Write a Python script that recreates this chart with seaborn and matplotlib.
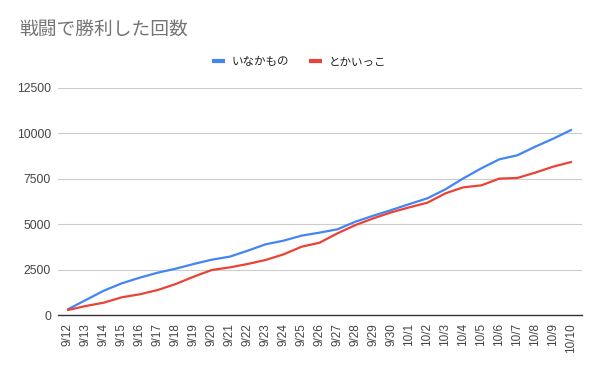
import matplotlib
matplotlib.use("Agg")
import matplotlib.pyplot as plt
import seaborn as sns
import pandas as pd
import numpy as np
from matplotlib.lines import Line2D

dates = ["9/12", "9/13", "9/14", "9/15", "9/16", "9/17", "9/18", "9/19", "9/20", "9/21",
         "9/22", "9/23", "9/24", "9/25", "9/26", "9/27", "9/28", "9/29", "9/30", "10/1",
         "10/2", "10/3", "10/4", "10/5", "10/6", "10/7", "10/8", "10/9", "10/10"]
inakamono = [313, 826, 1340, 1744, 2056, 2331, 2551, 2809, 3045, 3212,
             3540, 3893, 4094, 4370, 4535, 4720, 5140, 5470, 5782, 6110,
             6425, 6920, 7526, 8077, 8574, 8793, 9270, 9710, 10190]
tokaikko = [275, 496, 680, 975, 1140, 1377, 1707, 2110, 2478, 2620,
            2810, 3030, 3340, 3760, 3980, 4500, 4955, 5325, 5655, 5930,
            6185, 6700, 7030, 7140, 7510, 7545, 7840, 8170, 8425]
series_names = ["いなかもの", "とかいっこ"]
colors = ["#4285F4", "#EA4335"]
title = "戦闘で勝利した回数"

sns.set_theme(style="white")
plt.rcParams['font.family'] = ['Noto Sans CJK JP', 'DejaVu Sans']

df = pd.DataFrame({
    "idx": list(range(len(dates))) * 2,
    "value": inakamono + tokaikko,
    "series": [series_names[0]] * len(dates) + [series_names[1]] * len(dates),
})

fig = plt.figure(figsize=(6, 3.71), dpi=100)
ax = fig.add_axes([58/600, 1 - 315/371, (582 - 58)/600, (315 - 88)/371])
sns.lineplot(data=df, x="idx", y="value", hue="series", palette=colors,
             linewidth=1.6, ax=ax, legend=False)

ax.set_xlim(-0.55, len(dates) - 1 + 0.6)
ax.set_ylim(0, 12500)
ax.set_yticks([0, 2500, 5000, 7500, 10000, 12500])
ax.set_yticklabels(["0", "2500", "5000", "7500", "10000", "12500"],
                   fontsize=8.7, color="#444444", family=["Liberation Sans", "DejaVu Sans"])
ax.set_xticks(range(len(dates)))
ax.set_xticklabels(dates, rotation=90, fontsize=8.5, color="#444444",
                   family=["Liberation Sans", "DejaVu Sans"])
ax.tick_params(axis="y", length=0, pad=5)
ax.tick_params(axis="x", length=0, pad=6)
ax.set_xlabel("")
ax.set_ylabel("")
ax.grid(axis="y", color="#cccccc", linewidth=0.8)
ax.set_axisbelow(True)
for s in ["top", "right", "left"]:
    ax.spines[s].set_visible(False)
ax.spines["bottom"].set_color("#333333")
ax.spines["bottom"].set_linewidth(1.0)

fig.text(19/600, 1 - 30/371, title, fontsize=13.5, color="#757575", va="center", ha="left")

handles = [Line2D([0], [0], color=c, linewidth=3, solid_capstyle="butt") for c in colors]
leg = fig.legend(handles, series_names, loc="center", bbox_to_anchor=(299/600, 1 - 62/371),
                 ncol=2, frameon=False, fontsize=8.3, handlelength=1.15, handletextpad=0.55,
                 columnspacing=1.7)
for t in leg.get_texts():
    t.set_color("#222222")

fig.savefig("out.png", dpi=100)
